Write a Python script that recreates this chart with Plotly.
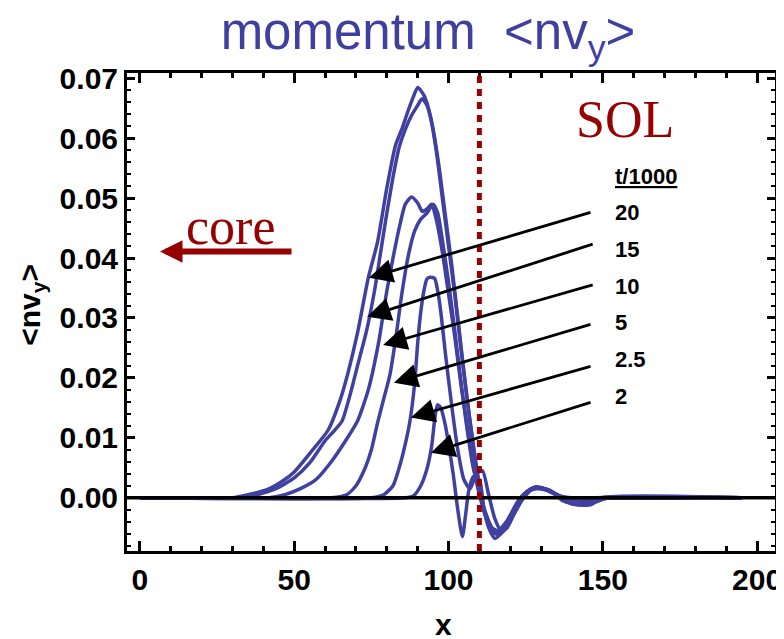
import plotly.graph_objects as go

# ---------------- data ----------------
t_labels = ["20", "15", "10", "5", "2.5", "2"]

x_t20 = [0, 30, 35, 41, 46, 50, 56, 61, 65, 67.5, 70.5, 74, 77, 80, 82.8, 85, 86.7, 88.5, 90, 92, 94, 96, 98,
         100, 102, 104, 106, 108, 110, 112, 114, 116, 118, 120, 122, 125, 128, 132, 136, 140, 195]
y_t20 = [0, 0, 0.0005, 0.0013, 0.0027, 0.0043, 0.008, 0.0113, 0.0165, 0.021, 0.0275, 0.0367, 0.0427, 0.0517,
         0.0588, 0.0617, 0.0643, 0.0668, 0.0685, 0.0672, 0.064, 0.058, 0.050, 0.042, 0.034, 0.025, 0.0165, 0.009,
         0.002, -0.003, -0.005, -0.0055, -0.0045, -0.003, -0.001, 0.0008, 0.0015, 0.0012, 0.0003, 0, 0]

x_t15 = [0, 33, 38, 44, 50, 55, 60, 63, 65.5, 68, 70.5, 73.5, 76, 78, 80, 82, 84, 86, 88, 90, 91.4, 93, 95, 97,
         99, 101, 103, 105, 107, 109, 111, 113, 115, 117, 119, 121, 124, 127, 131, 135, 140, 145, 150, 195]
y_t15 = [0, 0, 0.0005, 0.0015, 0.0033, 0.0058, 0.0095, 0.0112, 0.0128, 0.017, 0.022, 0.028, 0.0345, 0.041,
         0.0475, 0.0535, 0.0585, 0.0615, 0.0638, 0.0655, 0.0666, 0.0655, 0.0615, 0.055, 0.047, 0.039, 0.030,
         0.021, 0.0125, 0.005, -0.0008, -0.0045, -0.006, -0.0058, -0.0042, -0.002, 0.0004, 0.0016, 0.0015,
         0.0005, -0.0003, -0.0004, 0, 0]

x_t10 = [0, 42, 47, 52, 57, 62, 67, 70.5, 74, 77.3, 80, 82, 84, 86, 88, 90, 91.5, 93, 94.5, 96, 98, 100, 102,
         104, 106, 108, 110, 112, 114, 116, 118, 120, 123, 126, 130, 134, 138, 143, 148, 195]
y_t10 = [0, 0, 0.0005, 0.0015, 0.003, 0.006, 0.0098, 0.0128, 0.018, 0.0258, 0.0345, 0.040, 0.045, 0.049,
         0.0502, 0.0492, 0.0478, 0.0482, 0.049, 0.0465, 0.041, 0.034, 0.027, 0.019, 0.012, 0.0055, 0.0005,
         -0.003, -0.005, -0.0058, -0.005, -0.003, -0.0005, 0.0012, 0.0016, 0.0008, -0.0003, -0.0005, 0, 0]

x_t5 = [0, 62, 67, 70, 73, 75, 77, 79, 81, 83, 85, 87, 89, 91, 93, 95, 96.5, 98, 100, 102, 104, 106, 108, 110,
        112, 114, 116, 118, 120, 122, 125, 128, 132, 136, 140, 145, 150, 195]
y_t5 = [0, 0, 0.0005, 0.002, 0.005, 0.008, 0.0125, 0.0165, 0.0205, 0.027, 0.0345, 0.0405, 0.0445, 0.0465,
        0.0475, 0.049, 0.0475, 0.043, 0.036, 0.028, 0.0195, 0.0115, 0.005, 0.001, -0.0025, -0.005, -0.0062,
        -0.0055, -0.0035, -0.0015, 0.0005, 0.0017, 0.0014, 0.0003, -0.001, -0.0008, 0, 0]

x_t25 = [0, 75, 79, 82, 84, 86, 87.5, 89, 90, 91, 92, 93, 94, 95.5, 96.5, 97.5, 99, 101, 103, 105, 107, 109,
         111, 113, 115, 117, 119, 121, 124, 128, 133, 137, 142, 147, 152, 195]
y_t25 = [0, 0, 0.0005, 0.002, 0.005, 0.009, 0.0128, 0.019, 0.0258, 0.031, 0.0345, 0.0365, 0.0368, 0.0366,
         0.0345, 0.031, 0.024, 0.0155, 0.008, 0.003, 0.0015, 0.004, 0.0045, 0.0005, -0.0035, -0.0055, -0.005,
         -0.003, -0.0003, 0.0018, 0.0012, -0.0005, -0.0012, -0.0008, 0, 0]

x_t2 = [0, 86, 88.6, 91, 93, 94.5, 95.5, 96.4, 97.5, 99, 100, 101.5, 103, 104.5, 105.5, 106.5, 108, 110, 111.5,
        113, 115, 117, 119, 121, 124, 127, 131, 135, 140, 146, 150, 195]
y_t2 = [0, 0, 0.0003, 0.002, 0.0048, 0.0085, 0.013, 0.0155, 0.015, 0.012, 0.009, 0.004, -0.002, -0.0065,
        -0.003, 0.001, 0.0035, 0.003, -0.002, -0.005, -0.0068, -0.006, -0.0045, -0.0022, 0.0002, 0.0015,
        0.0015, 0.0004, -0.001, -0.0012, 0, 0]

series_x = [x_t20, x_t15, x_t10, x_t5, x_t25, x_t2]
series_y = [y_t20, y_t15, y_t10, y_t5, y_t25, y_t2]

x_ticks = [0, 50, 100, 150, 200]
separatrix_x = 110

# ---------------- positions / styles ----------------
# the page body has an 8px default margin, so the figure is sized 8px smaller
W, H = 776, 631
arrow_tips = [(74.2, 0.0367), (73.6, 0.0302), (78.8, 0.0255), (82.3, 0.0192), (87.8, 0.0134), (94.3, 0.0075)]
arrow_tails = [(146.5, 0.0477), (147.2, 0.0424), (147.2, 0.0356), (146.5, 0.0290), (146.5, 0.0220), (146.5, 0.0160)]
label_y = [0.0476, 0.0414, 0.0352, 0.0292, 0.0230, 0.0169]
label_x = 153.3

BLUE = "#4040A0"
RED = "#960000"
FONT = "Liberation Sans, Arial, sans-serif"
SERIF = "Liberation Serif, Times New Roman, serif"

fig = go.Figure()
for xs, ys, lab in zip(series_x, series_y, t_labels):
    fig.add_trace(go.Scatter(x=xs, y=ys, mode="lines", name=lab,
                             line=dict(color=BLUE, width=3.5, shape="spline", smoothing=0.6),
                             showlegend=False, hoverinfo="skip"))

# zero line (above curves) and separatrix
fig.add_shape(type="line", xref="paper", yref="y", x0=0, x1=1, y0=0, y1=0,
              line=dict(color="black", width=3.5), layer="above")
fig.add_shape(type="line", xref="x", yref="paper", x0=separatrix_x, x1=separatrix_x, y0=0, y1=1,
              line=dict(color=RED, width=5, dash="7px,6px"), layer="above")

ann = []
for (hx, hy), (tx, ty) in zip(arrow_tips, arrow_tails):
    ann.append(dict(x=hx, y=hy, ax=tx, ay=ty, xref="x", yref="y", axref="x", ayref="y",
                    text="", showarrow=True, arrowhead=2, arrowsize=1.7, arrowwidth=2.8,
                    arrowcolor="black"))
for lab, ly in zip(t_labels, label_y):
    ann.append(dict(x=label_x, y=ly, xref="x", yref="y", text=lab, showarrow=False,
                    xanchor="left", yanchor="middle",
                    font=dict(family=FONT, size=22, color="black", weight="bold")))
ann.append(dict(x=label_x, y=0.0536, xref="x", yref="y", text="<u>t/1000</u>", showarrow=False,
                xanchor="left", yanchor="middle",
                font=dict(family=FONT, size=22, color="black", weight="bold")))
# core arrow & texts
ann.append(dict(x=6.5, y=0.0411, ax=49.6, ay=0.0411, xref="x", yref="y", axref="x", ayref="y",
                text="", showarrow=True, arrowhead=2, arrowsize=0.75, arrowwidth=6, arrowcolor=RED))
ann.append(dict(x=29.5, y=0.0452, xref="x", yref="y", text="core", showarrow=False,
                xanchor="center", yanchor="middle",
                font=dict(family=SERIF, size=52, color=RED)))
ann.append(dict(x=157.2, y=0.0631, xref="x", yref="y", text="SOL", showarrow=False,
                xanchor="center", yanchor="middle",
                font=dict(family=SERIF, size=52, color=RED)))
# axis titles
ann.append(dict(x=-0.1466, y=0.515, xref="paper", yref="paper", text="<nv<sub>y</sub>>",
                textangle=-90, showarrow=False, xanchor="center", yanchor="middle",
                font=dict(family=FONT, size=30, color="black", weight="bold")))
ann.append(dict(x=0.488, y=-0.153, xref="paper", yref="paper", text="x", showarrow=False,
                xanchor="center", yanchor="middle",
                font=dict(family=FONT, size=30, color="black", weight="bold")))

fig.update_layout(
    width=W, height=H,
    margin=dict(l=119, r=9, t=65, b=88),
    paper_bgcolor="white", plot_bgcolor="white",
    title=dict(text="momentum  <nv<sub>y</sub>>", x=420 / W, xanchor="center",
               y=1 - 23 / H, yanchor="middle",
               font=dict(family=FONT, size=51, color="#3F3F9F")),
    annotations=ann,
)
fig.update_xaxes(range=[-4.2, 205.8], tickvals=x_ticks, ticks="inside", ticklen=10, tickwidth=2.5,
                 tickcolor="black", showline=True, linewidth=3, linecolor="black", mirror="ticks",
                 showgrid=False, zeroline=False, automargin=False,
                 minor=dict(dtick=10, tick0=0, ticks="inside", ticklen=5, tickwidth=2.5, tickcolor="black"),
                 tickfont=dict(family=FONT, size=30, color="black", weight="bold"))
fig.update_yaxes(range=[-0.0089, 0.0709], dtick=0.01, tick0=0, tickformat=".2f", ticks="inside",
                 ticklen=8, tickwidth=2.5, tickcolor="black", showline=True, linewidth=3,
                 linecolor="black", mirror="ticks", showgrid=False, zeroline=False, automargin=False,
                 minor=dict(dtick=0.002, tick0=0, ticks="inside", ticklen=4, tickwidth=2, tickcolor="black"),
                 tickfont=dict(family=FONT, size=30, color="black", weight="bold"))

fig.write_html("out.html")
